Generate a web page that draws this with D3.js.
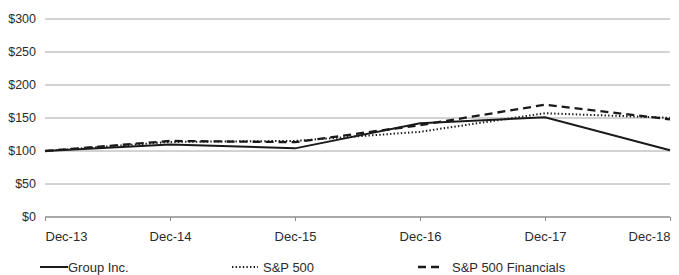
<!DOCTYPE html>
<html>
<head>
<meta charset="utf-8">
<script src="https://cdn.jsdelivr.net/npm/d3@7"></script>
<style>
  body { margin: 0; background: #fff; }
  svg { display: block; font-family: "Liberation Sans", Arial, sans-serif; }
</style>
</head>
<body>
<div id="chart"></div>
<script>
// data
const years = ['Dec-13', 'Dec-14', 'Dec-15', 'Dec-16', 'Dec-17', 'Dec-18'];
const groupInc = [100, 110, 104, 142, 151, 101];
const sp500 = [100, 113.7, 115.3, 129.1, 157.2, 150.3];
const sp500Fin = [100, 115.2, 113.4, 139.2, 170.1, 148.0];
const yTicks = [0, 50, 100, 150, 200, 250, 300];

const width = 679, height = 275;
const margin = { left: 45, right: 9, top: 19, bottom: 58 };

const svg = d3.select('#chart').append('svg')
  .attr('width', width)
  .attr('height', height);

const x = d3.scalePoint()
  .domain(years)
  .range([margin.left, width - margin.right]);

const y = d3.scaleLinear()
  .domain([0, 300])
  .range([height - margin.bottom, margin.top]);

// horizontal gridlines
svg.append('g')
  .selectAll('line')
  .data(yTicks.filter(d => d > 0))
  .join('line')
  .attr('x1', margin.left)
  .attr('x2', width - margin.right)
  .attr('y1', d => y(d))
  .attr('y2', d => y(d))
  .attr('stroke', '#a6a6a6')
  .attr('stroke-width', 1);

// y labels
svg.append('g')
  .selectAll('text')
  .data(yTicks)
  .join('text')
  .attr('x', 36)
  .attr('y', d => y(d))
  .attr('dy', '0.35em')
  .attr('text-anchor', 'end')
  .attr('font-size', 12.5)
  .attr('fill', '#2b2b2b')
  .text(d => '$' + d);

// x axis
const xAxis = svg.append('g')
  .attr('transform', `translate(0,${y(0)})`)
  .call(d3.axisBottom(x).tickSize(4).tickPadding(11));
xAxis.select('.domain')
  .attr('stroke', '#8c8c8c')
  .attr('stroke-width', 1.5)
  .attr('d', `M${margin.left},0H${width - margin.right}`);
xAxis.selectAll('.tick line').attr('stroke', '#8c8c8c').attr('stroke-width', 1);
xAxis.selectAll('.tick text')
  .attr('font-size', 13)
  .attr('font-family', '"Liberation Sans", Arial, sans-serif')
  .attr('fill', '#2b2b2b')
  .attr('text-anchor', (d, i) => i === 0 ? 'start' : (i === years.length - 1 ? 'end' : 'middle'));

const series = [
  { name: 'Group Inc.', values: groupInc, dash: null, width: 2 },
  { name: 'S&P 500', values: sp500, dash: '1.4,2.2', width: 2 },
  { name: 'S&P 500 Financials', values: sp500Fin, dash: '8,5', width: 2.3 }
];

const line = d3.line()
  .x((d, i) => x(years[i]))
  .y(d => y(d));

svg.append('g')
  .selectAll('path')
  .data(series.slice().reverse())
  .join('path')
  .attr('d', d => line(d.values))
  .attr('fill', 'none')
  .attr('stroke', '#1a1a1a')
  .attr('stroke-width', d => d.width)
  .attr('stroke-dasharray', d => d.dash);

// legend
const legendX = [40, 232, 418];
const legendY = 267;
const legend = svg.append('g')
  .selectAll('g')
  .data(series)
  .join('g')
  .attr('transform', (d, i) => `translate(${legendX[i]},${legendY})`);

legend.append('line')
  .attr('x1', 0)
  .attr('x2', (d, i) => i === 0 ? 28 : 26)
  .attr('stroke', '#1a1a1a')
  .attr('stroke-width', d => d.width)
  .attr('stroke-dasharray', d => d.dash);

legend.append('text')
  .attr('x', (d, i) => i === 0 ? 28 : (i === 1 ? 31 : 34))
  .attr('dy', '0.35em')
  .attr('font-size', 13)
  .attr('fill', '#2b2b2b')
  .text(d => d.name);
</script>
</body>
</html>
